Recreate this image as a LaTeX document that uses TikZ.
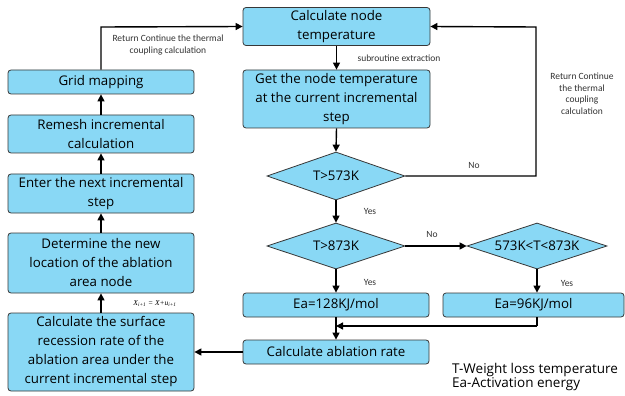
\documentclass[tikz,border=0pt]{standalone}
\usepackage{fontspec}
\setmainfont{Carlito}
\newfontfamily\boxfont{Open Sans}
\usetikzlibrary{shapes.geometric,arrows.meta}
\definecolor{boxblue}{RGB}{137,216,245}
\definecolor{edgegray}{RGB}{55,55,55}
\tikzset{
  pbox/.style={draw=edgegray,fill=boxblue,rounded corners=3pt,line width=0.8pt,align=center,font=\boxfont\fontsize{13.3}{19}\selectfont,inner sep=0pt},
  dbox/.style={draw=edgegray,fill=boxblue,diamond,aspect=2.9,line width=0.8pt,font=\boxfont\fontsize{13.3}{19}\selectfont,inner sep=0pt},
  conn/.style={line width=1.4pt,-{Triangle[length=7pt,width=7pt]}},
  plain/.style={line width=1.4pt},
  lbl/.style={font=\fontsize{9.5}{11.5}\selectfont,text=black!80,align=center,inner sep=1pt}
}
\begin{document}
\begin{tikzpicture}[x=1pt,y=1pt]
\useasboundingbox (0,0) rectangle (625,-396);
% left column
\node[pbox,minimum width=186pt,minimum height=24pt] (grid) at (101,-82) {Grid mapping};
\node[pbox,minimum width=186pt,minimum height=38pt] (remesh) at (101,-134) {Remesh incremental\\calculation};
\node[pbox,minimum width=186pt,minimum height=39pt] (enter) at (101,-193.5) {Enter the next incremental\\step};
\node[pbox,minimum width=186pt,minimum height=60pt] (determ) at (101,-263) {Determine the new\\location of the ablation\\area node};
\node[pbox,minimum width=186pt,minimum height=78pt] (surf) at (101,-352) {Calculate the surface\\recession rate of the\\ablation area under the\\current incremental step};
% right column
\node[pbox,minimum width=187pt,minimum height=38pt] (calc) at (336.5,-26.5) {Calculate node\\temperature};
\node[pbox,minimum width=187pt,minimum height=58pt] (get) at (336.5,-99) {Get the node temperature\\at the current incremental\\step};
\node[dbox,minimum width=138pt,minimum height=48pt] (d1) at (336,-176) {T>573K};
\node[dbox,minimum width=138pt,minimum height=46pt] (d2) at (336,-246) {T>873K};
\node[dbox,minimum width=140pt,minimum height=46pt] (d3) at (537,-246) {573K<T<873K};
\node[pbox,minimum width=186pt,minimum height=24pt] (ea1) at (336,-305) {Ea=128KJ/mol};
\node[pbox,minimum width=181pt,minimum height=24pt] (ea2) at (533.5,-305) {Ea=96KJ/mol};
\node[pbox,minimum width=186pt,minimum height=24pt] (abl) at (336,-352) {Calculate ablation rate};
% connectors
\coordinate (g1) at (101,-27);
\draw[conn] (grid.north) -- (g1) -- (calc.west);
\draw[conn] (remesh.north) -- (grid.south);
\draw[conn] (enter.north) -- (remesh.south);
\draw[conn] (determ.north) -- (enter.south);
\draw[conn] (surf.north) -- (determ.south);
\draw[conn] (calc.south) -- (get.north);
\draw[conn] (get.south) -- (d1.north);
\coordinate (n1) at (536,-176);
\coordinate (n2) at (536,-27);
\draw[conn] (d1.east) -- (n1) -- (n2) -- (calc.east);
\draw[conn] (d1.south) -- (d2.north);
\draw[conn] (d2.east) -- (d3.west);
\draw[conn] (d2.south) -- (ea1.north);
\draw[conn] (d3.south) -- (d3.south |- ea2.north);
\coordinate (m1) at (537,-326);
\coordinate (m2) at (336,-326);
\draw[plain] (ea2.south -| m1) -- (m1);
\draw[conn] (m1) -- (m2);
\draw[conn] (ea1.south) -- (abl.north);
\draw[conn] (abl.west) -- (surf.east);
% labels
\node[lbl] (l1) at (168,-45) {Return Continue the thermal\\coupling calculation};
\node[lbl] (l2) at (399,-58) {subroutine extraction};
\node[lbl] (l3) at (582,-94) {Return Continue\\the thermal\\coupling\\calculation};
\node[lbl] (l4) at (474,-165) {No};
\node[lbl] (l5) at (370,-211) {Yes};
\node[lbl] (l6) at (432,-234) {No};
\node[lbl] (l7) at (370,-282) {Yes};
\node[lbl] (l8) at (567,-283) {Yes};
\node[font=\fontsize{7.5}{8}\selectfont,inner sep=1pt] (l9) at (155,-304) {\fontspec{Liberation Serif}\itshape X\textsubscript{i+1} = X+u\textsubscript{i+1}};
\node[anchor=west,align=left,font=\boxfont\fontsize{13.5}{14}\selectfont,inner sep=0pt] (leg) at (452,-377) {T-Weight loss temperature\\Ea-Activation energy};
\end{tikzpicture}
\end{document}
